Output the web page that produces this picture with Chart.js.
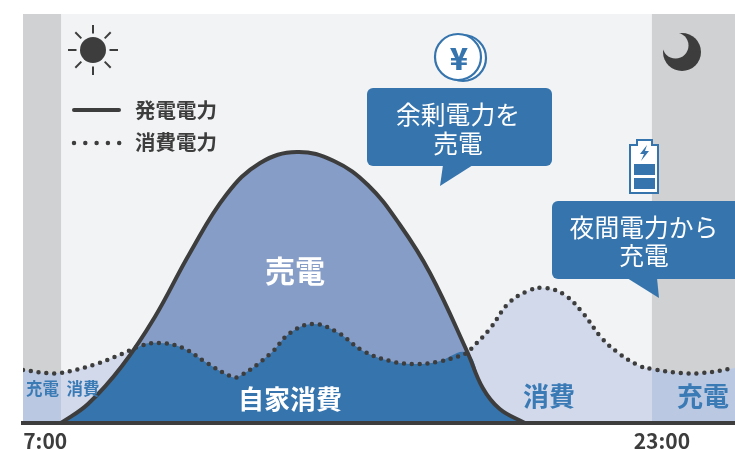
<!DOCTYPE html>
<html lang="ja">
<head>
<meta charset="utf-8">
<title>発電電力と消費電力</title>
<script src="https://cdn.jsdelivr.net/npm/chart.js@4"></script>
<style>
  body { margin: 0; background: #fff; }
  canvas { display: block; }
</style>
</head>
<body>
<canvas id="chart" width="735" height="450"></canvas>
<script>
// 発電電力 (hora / valor)
const genHours = [7, 7.73, 8.65, 9.54, 10.49, 11.47, 12.39, 13.39, 14.39, 15.31, 16.18, 16.99, 17.99, 18.42, 18.88, 19.56];
const genValues = [0, 19, 57, 106, 170, 228, 260, 271, 262, 238, 198, 150, 72, 35, 14, 0];

// 消費電力
const consHours = [5.97, 6.62, 7, 7.87, 8.65, 9.14, 9.68, 10.3, 10.95, 11.57, 11.79, 12.66, 13.2, 13.82, 14.47, 15.18, 15.91, 16.53, 17.18, 17.99, 18.15, 18.61, 19.1, 19.64, 20.1, 20.64, 21.13, 21.64, 22.13, 22.67, 23, 23.76, 24.38, 25.25];
const consValues = [53, 50, 50, 58, 69, 77, 80, 75, 60, 47, 46, 69, 90, 99, 91, 72, 62, 59, 61, 70, 76, 94, 119, 132, 135, 128, 110, 85, 69, 57, 54, 50, 50, 55];

// 自家消費 (borde superior de la zona oscura)
const selfHours = [7, 7.73, 8.65, 9.14, 9.68, 10.3, 10.95, 11.57, 11.79, 12.66, 13.2, 13.82, 14.47, 15.18, 15.91, 16.53, 17.18, 17.99, 18.42, 18.88, 19.56];
const selfValues = [0, 19, 57, 77, 80, 75, 60, 47, 46, 69, 90, 99, 91, 72, 62, 59, 61, 70, 35, 14, 0];

// 夜間 (充電) の部分
const nightLeftHours = [5.97, 6.62, 7];
const nightLeftValues = [53, 50, 50];
const nightRightHours = [23, 23.76, 24.38, 25.25];
const nightRightValues = [54, 50, 50, 55];

// Etiquetas del eje
const tickHours = [6.57, 23.27];
const tickLabels = ["7:00", "23:00"];

const FONT = '"Noto Sans CJK JP", "Noto Sans", sans-serif';
const DARK = "#3d3d3d";
const BLUE = "#3574ad";
const CURVE = 0.4;

function toPoints(xs, ys) {
  return xs.map((x, i) => ({ x: x, y: ys[i] }));
}

function areaDataset(xs, ys, color, order) {
  return {
    data: toPoints(xs, ys),
    borderWidth: 0,
    pointRadius: 0,
    fill: "origin",
    backgroundColor: color,
    tension: CURVE,
    order: order
  };
}

function text(ctx, str, x, y, font, color) {
  ctx.font = font + " " + FONT;
  ctx.fillStyle = color;
  ctx.textAlign = "center";
  ctx.textBaseline = "middle";
  ctx.fillText(str, x, y);
}

function bubble(ctx, x, y, w, h, tail) {
  ctx.fillStyle = BLUE;
  ctx.beginPath();
  ctx.roundRect(x, y, w, h, 6);
  ctx.fill();
  ctx.beginPath();
  ctx.moveTo(tail[0], tail[1]);
  ctx.lineTo(tail[2], tail[3]);
  ctx.lineTo(tail[4], tail[5]);
  ctx.closePath();
  ctx.fill();
}

// Fondo y franjas de noche
const backgroundPlugin = {
  id: "background",
  beforeDatasetsDraw(chart) {
    const { ctx, chartArea: a, scales: { x } } = chart;
    const morning = x.getPixelForValue(7);
    const evening = x.getPixelForValue(23);
    ctx.save();
    ctx.fillStyle = "#f2f3f5";
    ctx.fillRect(a.left, a.top, a.right - a.left, a.bottom - a.top);
    ctx.fillStyle = "#d0d1d3";
    ctx.fillRect(a.left, a.top, morning - a.left, a.bottom - a.top);
    ctx.fillRect(evening, a.top, a.right - evening, a.bottom - a.top);
    ctx.restore();
  }
};

// Iconos, leyenda, globos y rótulos
const decorPlugin = {
  id: "decor",
  afterDraw(chart) {
    const ctx = chart.ctx;
    ctx.save();

    // sol
    ctx.fillStyle = DARK;
    ctx.beginPath();
    ctx.arc(93, 50, 13, 0, Math.PI * 2);
    ctx.fill();
    ctx.strokeStyle = DARK;
    ctx.lineWidth = 2;
    for (let i = 0; i < 8; i++) {
      const ang = i * Math.PI / 4;
      ctx.beginPath();
      ctx.moveTo(93 + Math.cos(ang) * 16.5, 50 + Math.sin(ang) * 16.5);
      ctx.lineTo(93 + Math.cos(ang) * 25, 50 + Math.sin(ang) * 25);
      ctx.stroke();
    }

    // luna
    ctx.fillStyle = DARK;
    ctx.beginPath();
    ctx.arc(682, 52, 19, 0, Math.PI * 2);
    ctx.fill();
    ctx.fillStyle = "#d0d1d3";
    ctx.beginPath();
    ctx.arc(675.5, 45.5, 13, 0, Math.PI * 2);
    ctx.fill();
    ctx.beginPath();
    ctx.moveTo(663, 50);
    ctx.lineTo(660, 30);
    ctx.lineTo(678, 30);
    ctx.lineTo(678, 33);
    ctx.closePath();
    ctx.fill();

    // leyenda
    ctx.strokeStyle = DARK;
    ctx.lineWidth = 4;
    ctx.lineCap = "round";
    ctx.beginPath();
    ctx.moveTo(74, 110);
    ctx.lineTo(119, 110);
    ctx.stroke();
    ctx.lineWidth = 4.5;
    ctx.setLineDash([0, 11.3]);
    ctx.beginPath();
    ctx.moveTo(74, 143);
    ctx.lineTo(119.5, 143);
    ctx.stroke();
    ctx.setLineDash([]);
    ctx.lineCap = "butt";
    text(ctx, "発電電力", 176, 110, "bold 20.5px", DARK);
    text(ctx, "消費電力", 176, 142, "bold 20.5px", DARK);

    // moneda
    ctx.strokeStyle = BLUE;
    ctx.lineWidth = 2.2;
    [[463, 58], [458, 57]].forEach(c => {
      ctx.fillStyle = "#fff";
      ctx.beginPath();
      ctx.arc(c[0], c[1], 23, 0, Math.PI * 2);
      ctx.fill();
      ctx.stroke();
    });
    text(ctx, "¥", 459, 59, "900 30px", BLUE);

    // bateria
    ctx.fillStyle = "#fff";
    ctx.lineWidth = 2;
    ctx.beginPath();
    ctx.moveTo(630, 193);
    ctx.lineTo(630, 145);
    ctx.lineTo(637, 145);
    ctx.lineTo(637, 140);
    ctx.lineTo(652, 140);
    ctx.lineTo(652, 145);
    ctx.lineTo(658, 145);
    ctx.lineTo(658, 193);
    ctx.closePath();
    ctx.fill();
    ctx.stroke();
    ctx.fillStyle = BLUE;
    ctx.fillRect(634, 164, 21, 11);
    ctx.fillRect(634, 178, 21, 11);
    ctx.beginPath();
    ctx.moveTo(647, 145);
    ctx.lineTo(640, 154);
    ctx.lineTo(644, 154);
    ctx.lineTo(641, 161);
    ctx.lineTo(649, 151);
    ctx.lineTo(645, 151);
    ctx.closePath();
    ctx.fill();

    // globos
    bubble(ctx, 367, 88, 185, 78, [443, 165, 440, 186, 473, 165]);
    text(ctx, "余剰電力を", 458, 115, "24.8px", "#fff");
    text(ctx, "売電", 458, 144, "24.8px", "#fff");
    bubble(ctx, 552, 201, 190, 78, [627, 278, 659, 298, 657, 278]);
    text(ctx, "夜間電力から", 644, 228, "24.8px", "#fff");
    text(ctx, "充電", 644, 256, "24.8px", "#fff");

    // rótulos de zona
    text(ctx, "売電", 295, 271, "bold 30px", "#fff");
    text(ctx, "自家消費", 290, 399, "bold 26px", "#fff");
    text(ctx, "消費", 549, 396, "bold 26px", "#3a7ab5");
    text(ctx, "充電", 703, 396, "bold 26px", "#3a7ab5");
    text(ctx, "充電", 42.5, 389, "bold 16.5px", "#3a7ab5");
    text(ctx, "消費", 83, 389, "bold 16.5px", "#3a7ab5");

    ctx.restore();
  }
};

new Chart(document.getElementById("chart"), {
  type: "line",
  data: {
    datasets: [
      // líneas encima de todo
      {
        data: toPoints(genHours, genValues),
        borderColor: DARK,
        borderWidth: 4,
        pointRadius: 0,
        fill: false,
        tension: CURVE,
        order: 0
      },
      {
        data: toPoints(consHours, consValues),
        borderColor: DARK,
        borderWidth: 4.5,
        borderCapStyle: "round",
        borderDash: [0, 7.85],
        pointRadius: 0,
        fill: false,
        tension: CURVE,
        order: 1
      },
      areaDataset(selfHours, selfValues, "#3574ad", 2),
      areaDataset(genHours, genValues, "#869dc7", 3),
      areaDataset(nightLeftHours, nightLeftValues, "#bac8e1", 4),
      areaDataset(nightRightHours, nightRightValues, "#bac8e1", 4),
      areaDataset(consHours, consValues, "#d2d9eb", 5)
    ]
  },
  options: {
    responsive: false,
    animation: false,
    layout: { padding: { left: 23, right: 0, top: 14, bottom: 0 } },
    plugins: { legend: { display: false }, tooltip: { enabled: false } },
    scales: {
      x: {
        type: "linear",
        min: 5.97,
        max: 25.25,
        afterBuildTicks(scale) {
          scale.ticks = tickHours.map(v => ({ value: v }));
        },
        afterFit(scale) {
          scale.height = 27;
        },
        grid: { display: false, drawTicks: false },
        border: { color: DARK, width: 4, z: 1 },
        ticks: {
          autoSkip: false,
          maxRotation: 0,
          padding: 5,
          color: DARK,
          font: { family: FONT, size: 21, weight: "bold" },
          callback: (value, index) => tickLabels[index]
        }
      },
      y: { display: false, min: 0, max: 409 }
    }
  },
  plugins: [backgroundPlugin, decorPlugin]
});
</script>
</body>
</html>
